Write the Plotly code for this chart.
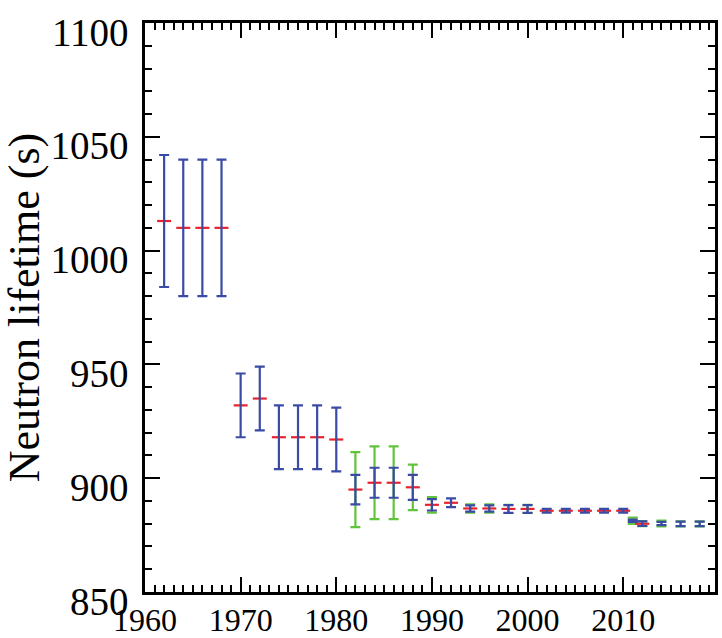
import plotly.graph_objects as go

years = [1962, 1964, 1966, 1968, 1970, 1972, 1974, 1976, 1978, 1980,
         1982, 1984, 1986, 1988, 1990, 1992, 1994, 1996, 1998, 2000,
         2002, 2004, 2006, 2008, 2010, 2011, 2012, 2014, 2016, 2018]
lifetime = [1013.0, 1010.0, 1010.0, 1010.0, 932.0, 935.0, 918.0, 918.0, 918.0, 917.0,
            895.0, 898.0, 898.0, 896.0, 888.3, 889.2, 886.7, 886.7, 886.5, 886.5,
            885.7, 885.7, 885.7, 885.7, 885.7, 881.3, 880.0, 880.1, 879.9, 879.9]
blue_err = [29.0, 30.0, 30.0, 30.0, 14.0, 14.0, 14.0, 14.0, 14.0, 14.0,
            6.5, 6.6, 6.6, 5.5, 2.5, 1.9, 1.4, 1.4, 1.7, 1.7,
            0.8, 0.8, 0.8, 0.8, 0.8, 0.5, 1.0, 0.75, 1.0, 1.0]
green_err = [None, None, None, None, None, None, None, None, None, None,
             16.5, 16.0, 16.0, 10.0, 3.4, None, 1.8, 1.8, 1.8, 1.8,
             None, None, None, None, None, 1.4, 1.1, 1.3, 1.1, 1.1]
central_shown = [True] * 25 + [False, True, False, False, False]

x_tickvals = [1960, 1970, 1980, 1990, 2000, 2010]
y_tickvals = [850, 900, 950, 1000, 1050, 1100]

BLUE = "#3a4ba6"
GREEN = "#62c43c"
RED = "#e8232e"
FONT = "Liberation Serif, Times New Roman, serif"

gx = [x for x, g in zip(years, green_err) if g is not None]
gy = [y for y, g in zip(lifetime, green_err) if g is not None]
ge = [g for g in green_err if g is not None]

rx = [x for x, s in zip(years, central_shown) if s]
ry = [y for y, s in zip(lifetime, central_shown) if s]

fig = go.Figure()
fig.add_trace(go.Scatter(
    x=gx, y=gy, mode="markers",
    marker=dict(size=1, color="rgba(0,0,0,0)"),
    error_y=dict(type="data", array=ge, visible=True, color=GREEN,
                 thickness=2.2, width=5),
    showlegend=False, hoverinfo="skip"))
fig.add_trace(go.Scatter(
    x=rx, y=ry, mode="markers",
    marker=dict(symbol="line-ew", size=10, color=RED,
                line=dict(color=RED, width=2.2)),
    showlegend=False))
fig.add_trace(go.Scatter(
    x=years, y=lifetime, mode="markers",
    marker=dict(size=1, color="rgba(0,0,0,0)"),
    error_y=dict(type="data", array=blue_err, visible=True, color=BLUE,
                 thickness=2.2, width=5),
    showlegend=False, hoverinfo="skip"))

fig.update_layout(
    width=722, height=638,
    margin=dict(l=145, r=7, t=23, b=46),
    paper_bgcolor="white", plot_bgcolor="white",
    font=dict(family=FONT, color="black"),
    xaxis=dict(
        range=[1960, 2019.6], tickvals=x_tickvals,
        ticktext=[str(v) for v in x_tickvals],
        ticks="inside", ticklen=15, tickwidth=2, tickcolor="black",
        minor=dict(dtick=1, tick0=1960, ticks="inside", ticklen=7,
                   tickwidth=1.5, tickcolor="black"),
        showline=True, linecolor="black", linewidth=2.5, mirror="ticks",
        showgrid=False, zeroline=False, automargin=False,
        tickfont=dict(family=FONT, size=32, color="black"),
        ticklabelstandoff=-2,
    ),
    yaxis=dict(
        range=[850, 1100], tickvals=y_tickvals,
        ticks="inside", ticklen=15, tickwidth=2, tickcolor="black",
        minor=dict(dtick=10, tick0=850, ticks="inside", ticklen=7,
                   tickwidth=2, tickcolor="black"),
        showline=True, linecolor="black", linewidth=2.5, mirror="ticks",
        showgrid=False, zeroline=False, automargin=False,
        tickfont=dict(family=FONT, size=39, color="black"),
        ticklabelstandoff=6, ticklabelshift=9,
        title=dict(text="Neutron lifetime (s)",
                   font=dict(family=FONT, size=44, color="black"),
                   standoff=23),
    ),
)

fig.write_html("out.html",
               config={"displayModeBar": False},
               post_script="document.body.style.margin='0';"
                           "document.body.style.padding='0';")
